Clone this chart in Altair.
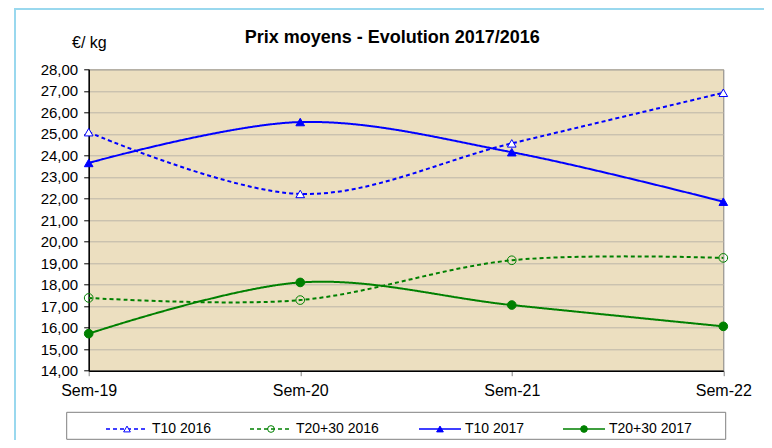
import altair as alt
import pandas as pd

# ---- data ----
weeks = ["Sem-19", "Sem-20", "Sem-21", "Sem-22"]
series_names = ["T10 2016", "T20+30 2016", "T10 2017", "T20+30 2017"]
t10_2016 = [25.08, 22.21, 24.56, 26.91]
t2030_2016 = [17.38, 17.28, 19.13, 19.24]
t10_2017 = [23.65, 25.55, 24.15, 21.85]
t2030_2017 = [15.72, 18.10, 17.05, 16.06]
y_ticks = list(range(14, 29))

# ---- styles ----
FONT = "Liberation Sans"
colors = ["#0000FF", "#008000", "#0000FF", "#008000"]
dashes = [[4, 3], [4, 3], [1, 0], [1, 0]]
shapes = ["triangle-up", "circle", "triangle-up", "circle"]
fills = ["#FFFFFF", "transparent", "#0000FF", "#008000"]

# legend layout (pixel offsets from the plot's left edge)
legend_offsets = [17.3, 161.3, 330.3, 474.3]
LEG_Y = 359.7

rows = []
for name, vals in zip(series_names, [t10_2016, t2030_2016, t10_2017, t2030_2017]):
    for w, v in zip(weeks, vals):
        rows.append({"week": w, "series": name, "price": v})
df = pd.DataFrame(rows)

leg_df = pd.DataFrame({
    "series": series_names,
    "x0": legend_offsets,
    "x1": [o + 42 for o in legend_offsets],
    "xm": [o + 21 for o in legend_offsets],
    "xt": [o + 46 for o in legend_offsets],
})

stroke_scale = alt.Scale(domain=series_names, range=colors)
dash_scale = alt.Scale(domain=series_names, range=dashes)
shape_scale = alt.Scale(domain=series_names, range=shapes)
fill_scale = alt.Scale(domain=series_names, range=fills)

x_enc = alt.X(
    "week:O",
    scale=alt.Scale(type="point", padding=0),
    axis=alt.Axis(title=None, labelAngle=0, labelFontSize=16, labelFont=FONT,
                  labelColor="#000000", labelPadding=7, tickSize=5,
                  tickColor="#808080", grid=False, domainColor="#000000",
                  domainWidth=1.5, orient="bottom"),
)
y_enc = alt.Y(
    "price:Q",
    scale=alt.Scale(domain=[14, 28], nice=False, zero=False),
    axis=alt.Axis(title=None, values=y_ticks,
                  labelExpr="replace(format(datum.value, '.2f'), '.', ',')",
                  labelFontSize=15, labelFont=FONT, labelColor="#000000",
                  labelPadding=6, tickSize=5, tickColor="#000000",
                  grid=True, gridColor="#bdb6a8", gridWidth=1,
                  domainColor="#000000", domainWidth=1.5),
)

base = alt.Chart(df)

lines = base.mark_line(interpolate="cardinal", strokeWidth=2).encode(
    x=x_enc, y=y_enc,
    stroke=alt.Stroke("series:N", scale=stroke_scale, legend=None),
    strokeDash=alt.StrokeDash("series:N", scale=dash_scale, legend=None),
)

points = base.mark_point(size=75, strokeWidth=1, opacity=1).encode(
    x=x_enc, y=y_enc,
    shape=alt.Shape("series:N", scale=shape_scale, legend=None),
    stroke=alt.Stroke("series:N", scale=stroke_scale, legend=None),
    fill=alt.Fill("series:N", scale=fill_scale, legend=None),
)

main = alt.layer(lines, points)

one = alt.Data(values=[{}])

frame = alt.Chart(one).mark_rect(fill="transparent", stroke="#99D8EE", strokeWidth=2).encode(
    x=alt.value(-73.7), y=alt.value(-60.3), x2=alt.value(1000), y2=alt.value(1000)
)

legend_box = alt.Chart(one).mark_rect(fill="#FFFFFF", stroke="#808080", strokeWidth=1).encode(
    x=alt.value(-22), x2=alt.value(637), y=alt.value(343), y2=alt.value(370)
)

title = alt.Chart(one).mark_text(
    text="Prix moyens - Evolution 2017/2016", font=FONT, fontSize=18,
    fontWeight="bold", align="center", baseline="middle", color="#000000"
).encode(x=alt.value(303.5), y=alt.value(-31))

unit = alt.Chart(one).mark_text(
    text="€/ kg", font=FONT, fontSize=16, align="left", baseline="middle",
    color="#000000"
).encode(x=alt.value(-16.7), y=alt.value(-26))

leg = alt.Chart(leg_df)
leg_lines = leg.mark_rule(strokeWidth=1.5).encode(
    x=alt.X("x0:Q", scale=None, axis=None), x2="x1:Q", y=alt.value(LEG_Y),
    stroke=alt.Stroke("series:N", scale=stroke_scale, legend=None),
    strokeDash=alt.StrokeDash("series:N", scale=dash_scale, legend=None),
)
leg_points = leg.mark_point(size=45, strokeWidth=1, opacity=1).encode(
    x=alt.X("xm:Q", scale=None, axis=None), y=alt.value(LEG_Y),
    shape=alt.Shape("series:N", scale=shape_scale, legend=None),
    stroke=alt.Stroke("series:N", scale=stroke_scale, legend=None),
    fill=alt.Fill("series:N", scale=fill_scale, legend=None),
)
leg_text = leg.mark_text(align="left", baseline="middle", font=FONT, fontSize=14,
                         color="#000000").encode(
    x=alt.X("xt:Q", scale=None, axis=None), y=alt.value(LEG_Y),
    text="series:N",
)

chart = alt.layer(
    frame, legend_box, title, unit, main, leg_lines, leg_points, leg_text
).resolve_scale(x="independent").properties(
    width=634.6,
    height=301.4,
    autosize=alt.AutoSizeParams(type="none"),
    padding={"left": 80.7, "top": 61.3, "right": 40.7, "bottom": 69.3},
    background="#FFFFFF",
).configure_view(
    fill="#ECDFC0", stroke="#808080", strokeWidth=1
)

chart.save("out.html", embed_options={"renderer": "svg", "actions": False})
